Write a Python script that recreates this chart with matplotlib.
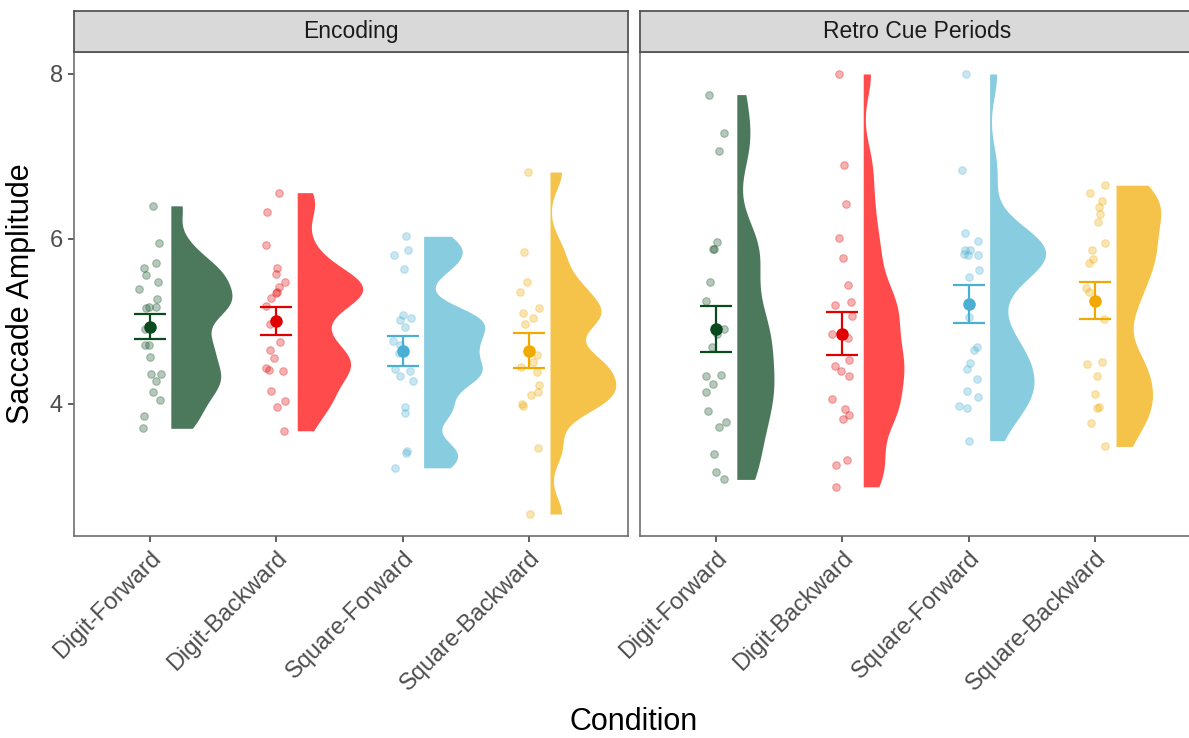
import numpy as np
import matplotlib
matplotlib.use("Agg")
import matplotlib.pyplot as plt

plt.rcParams['font.family'] = ['Liberation Sans', 'DejaVu Sans']

conditions = ["Digit-Forward", "Digit-Backward", "Square-Forward", "Square-Backward"]
periods = ["Encoding", "Retro Cue Periods"]

# saccade amplitude per participant, by period and condition
enc_digit_fwd = [6.40, 5.95, 5.71, 5.64, 5.56, 5.47, 5.39, 5.27, 5.17, 5.17, 5.16,
                 4.90, 4.71, 4.71, 4.56, 4.36, 4.36, 4.28, 4.14, 4.04, 3.85, 3.70]
enc_digit_bwd = [6.56, 6.33, 5.92, 5.65, 5.57, 5.48, 5.42, 5.35, 5.34, 5.28, 5.18,
                 4.97, 4.75, 4.65, 4.55, 4.43, 4.40, 4.41, 4.15, 4.03, 3.96, 3.67]
enc_square_fwd = [6.03, 5.87, 5.80, 5.63, 5.07, 5.04, 5.01, 4.93, 4.76, 4.71,
                  4.62, 4.42, 4.39, 4.34, 4.27, 3.96, 3.89, 3.40, 3.43, 3.22]
enc_square_bwd = [6.81, 5.84, 5.48, 5.36, 5.16, 5.10, 5.04, 4.97, 4.59, 4.50,
                  4.44, 4.38, 4.22, 4.14, 4.11, 4.00, 3.97, 3.46, 2.66]
ret_digit_fwd = [7.75, 7.28, 7.07, 5.96, 5.88, 5.88, 5.48, 5.25, 4.90, 4.88, 4.84,
                 4.69, 4.35, 4.33, 4.24, 4.14, 3.91, 3.78, 3.71, 3.39, 3.17, 3.08]
ret_digit_bwd = [8.00, 6.90, 6.42, 6.01, 5.77, 5.44, 5.23, 5.20, 5.06, 4.84, 4.80,
                 4.53, 4.46, 4.40, 4.34, 4.06, 3.94, 3.86, 3.81, 3.32, 3.26, 2.99]
ret_square_fwd = [8.00, 6.84, 6.07, 5.97, 5.87, 5.87, 5.82, 5.80, 5.80, 5.62, 5.54,
                  5.05, 4.69, 4.65, 4.49, 4.42, 4.30, 4.15, 4.08, 3.97, 3.95, 3.55]
ret_square_bwd = [6.65, 6.56, 6.46, 6.39, 6.30, 6.20, 5.95, 5.87, 5.75, 5.71, 5.40,
                  5.36, 5.03, 4.51, 4.48, 4.33, 4.12, 3.95, 3.96, 3.77, 3.48]

panel_data = {
    "Encoding": [enc_digit_fwd, enc_digit_bwd, enc_square_fwd, enc_square_bwd],
    "Retro Cue Periods": [ret_digit_fwd, ret_digit_bwd, ret_square_fwd, ret_square_bwd],
}

violin_colors = ["#4C785C", "#FF4B4B", "#88CCE0", "#F5C24A"]
mean_colors = ["#0B4A1F", "#E10000", "#4AAFD2", "#EFA900"]
y_ticks = [4, 6, 8]
BW_ADJUST = 0.55


def kde_nrd0(values, grid, adjust=1.0):
    v = np.asarray(values, float)
    n = len(v)
    sd = v.std(ddof=1)
    iqr = np.subtract(*np.percentile(v, [75, 25]))
    bw = adjust * 0.9 * min(sd, iqr / 1.34) * n ** (-0.2)
    z = (grid[:, None] - v[None, :]) / bw
    return np.exp(-0.5 * z ** 2).sum(axis=1) / (n * bw * np.sqrt(2 * np.pi))


# densities, with a shared area scaling
densities = {}
for p in periods:
    for i, vals in enumerate(panel_data[p]):
        grid = np.linspace(min(vals), max(vals), 512)
        densities[(p, i)] = (grid, kde_nrd0(vals, grid, BW_ADJUST))
dmax = max(d.max() for _, d in densities.values())

all_vals = np.concatenate([np.concatenate(v) for v in panel_data.values()])
rng_y = all_vals.max() - all_vals.min()
ylim = (all_vals.min() - 0.05 * rng_y, all_vals.max() + 0.05 * rng_y)
xlim = (0.399, 4.782)

W, H = 1189, 738
fig = plt.figure(figsize=(W / 100, H / 100), dpi=100)

panel_px = [(74, 628), (640, 1194)]
top_px, bot_px, strip_top = 52, 536, 11
jit = np.random.default_rng(7)

for k, (p, (x0, x1)) in enumerate(zip(periods, panel_px)):
    ax = fig.add_axes([x0 / W, 1 - bot_px / H, (x1 - x0) / W, (bot_px - top_px) / H])
    for i, vals in enumerate(panel_data[p]):
        xc = i + 1
        grid, dens = densities[(p, i)]
        width = dens / dmax * 0.52
        ax.fill_betweenx(grid, xc + 0.165, xc + 0.165 + width,
                         color=violin_colors[i], lw=0, zorder=1)
        v = np.asarray(vals)
        xs = xc + jit.uniform(-0.085, 0.085, len(v))
        ax.scatter(xs, v, s=30, facecolor=mean_colors[i], edgecolor=mean_colors[i],
                   alpha=0.3, linewidths=0.8, zorder=2)
        m = v.mean()
        se = v.std(ddof=1) / np.sqrt(len(v))
        ax.errorbar(xc, m, yerr=se, color=mean_colors[i], lw=1.6, capsize=11.5,
                    capthick=1.6, zorder=3)
        ax.plot(xc, m, 'o', color=mean_colors[i], ms=8, zorder=4)

    ax.set_xlim(*xlim)
    ax.set_ylim(*ylim)
    ax.set_xticks(range(1, 5))
    ax.set_xticklabels(conditions, rotation=45, ha='right', rotation_mode='anchor',
                       fontsize=17, color='#4D4D4D')
    if k == 0:
        ax.set_yticks(y_ticks)
        ax.set_yticklabels([str(t) for t in y_ticks], fontsize=17, color='#4D4D4D')
        ax.set_ylabel("Saccade Amplitude", fontsize=22, labelpad=10)
    else:
        ax.set_yticks([])
    ax.tick_params(axis='both', length=4, width=1.1, color='#333333', pad=4)
    for s in ax.spines.values():
        s.set_color('#6E6E6E')
        s.set_linewidth(1.2)
    ax.patch.set_facecolor('white')

    sax = fig.add_axes([x0 / W, 1 - top_px / H, (x1 - x0) / W, (top_px - strip_top) / H])
    sax.set_xticks([])
    sax.set_yticks([])
    sax.patch.set_facecolor('#D9D9D9')
    for s in sax.spines.values():
        s.set_color('#555555')
        s.set_linewidth(1.3)
    sax.text(0.5, 0.5, p, ha='center', va='center', fontsize=16.5, color='#1A1A1A',
             transform=sax.transAxes)

fig.text(634 / W, 1 - 722 / H, "Condition", ha='center', va='center', fontsize=22)
fig.savefig("out.png", dpi=100, facecolor='white')
